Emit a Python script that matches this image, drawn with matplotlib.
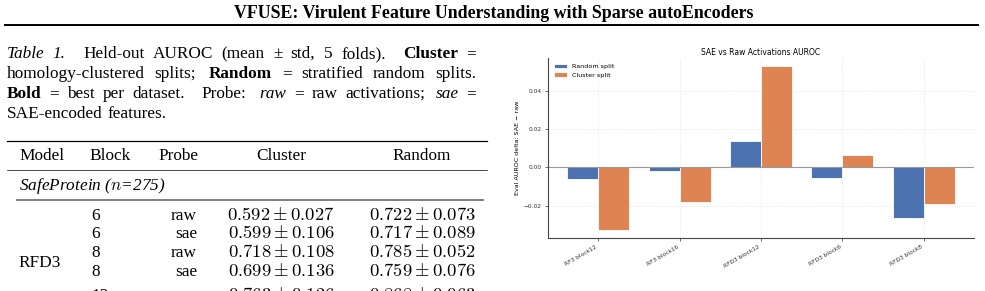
import numpy as np
import matplotlib.pyplot as plt
from matplotlib.lines import Line2D
from matplotlib.ticker import MultipleLocator

W, H = 985, 291

# chart data
categories = ['RF3 block12', 'RF3 block16', 'RFD3 block12', 'RFD3 block6', 'RFD3 block8']
random_delta = [-0.0062, -0.0018, 0.0137, -0.0053, -0.0265]
cluster_delta = [-0.0325, -0.0179, 0.0528, 0.0065, -0.0188]

# table data
blocks = ['6', '6', '8', '8', '12']
probes = ['raw', 'sae', 'raw', 'sae', 'raw']
cluster_mean = [0.592, 0.599, 0.718, 0.699, 0.763]
cluster_std = [0.027, 0.106, 0.108, 0.136, 0.126]
random_mean = [0.722, 0.717, 0.785, 0.759, 0.868]
random_std = [0.073, 0.089, 0.052, 0.076, 0.063]

SERIF = 'Liberation Serif'
FS = 12.4
EM = FS * 100 / 72

fig = plt.figure(figsize=(W / 100, H / 100), dpi=100)
renderer = fig.canvas.get_renderer()


def put(x, y, s, ha='left', size=FS, **kw):
    # x, y in pixels from the top-left corner, y is the baseline
    return fig.text(x / W, 1 - y / H, s, ha=ha, va='baseline', fontsize=size,
                    family=SERIF, **kw)


def rule(x0, x1, y, lw, color='black'):
    fig.add_artist(Line2D([x0 / W, x1 / W], [1 - y / H, 1 - y / H],
                          transform=fig.transFigure, lw=lw, color=color))


def space_factor(w):
    # rough TeX space factors: more stretch after punctuation
    if w[-1] in '.':
        return 3.0
    if w[-1] in ':':
        return 2.0
    if w[-1] in ';':
        return 1.5
    if w[-1] in ',':
        return 1.25
    return 1.0


def line(words, y, x0=7, x1=476, justify=True):
    arts = []
    for w, st in words:
        arts.append(put(0, y, w,
                        fontweight='bold' if st == 'b' else 'normal',
                        fontstyle='italic' if st == 'i' else 'normal'))
    ws = [t.get_window_extent(renderer).width for t in arts]
    sf = [space_factor(w) for w, _ in words[:-1]]
    nat = [EM * (0.25 + (0.1 if f >= 2 else 0)) for f in sf]
    extra = (x1 - x0 - sum(ws) - sum(nat)) if justify else 0
    gaps = [n + extra * f / sum(sf) for n, f in zip(nat, sf)] + [0]
    x = x0
    for t, w, g in zip(arts, ws, gaps):
        t.set_x(x / W)
        x += w + g


# page header
put(494, 18, 'VFUSE: Virulent Feature Understanding with Sparse autoEncoders',
    ha='center', fontweight='bold', size=12.9)
rule(5, 978, 25, 1.4)

# caption
line([('Table', 'i'), ('1.', 'i'), ('Held-out', 'r'), ('AUROC', 'r'), ('(mean', 'r'),
      ('\u00b1', 'r'), ('std,', 'r'), ('5', 'r'), ('folds).', 'r'), ('Cluster', 'b'),
      ('=', 'r')], 58)
line([('homology-clustered', 'r'), ('splits;', 'r'), ('Random', 'b'), ('=', 'r'),
      ('stratified', 'r'), ('random', 'r'), ('splits.', 'r')], 78)
line([('Bold', 'b'), ('=', 'r'), ('best', 'r'), ('per', 'r'), ('dataset.', 'r'),
      ('Probe:', 'r'), ('raw', 'i'), ('=', 'r'), ('raw', 'r'), ('activations;', 'r'),
      ('sae', 'i'), ('=', 'r')], 98)
line([('SAE-encoded', 'r'), ('features.', 'r')], 118, justify=False)

# table
rule(7, 487, 141, 0.9)
put(19, 160, 'Model')
put(89, 160, 'Block')
put(198, 160, 'Probe', ha='right')
put(281, 160, 'Cluster', ha='center')
put(422, 160, 'Random', ha='center')
rule(7, 487, 170, 0.5)
put(19, 190, r'SafeProtein ($n$=275)', fontstyle='italic', math_fontfamily='cm')
rule(17, 483, 200, 1.4, color='#7f7f7f')

row_y = [220, 238.5, 257, 275.5, 300]
put(18, 267, 'RFD3')
for i, y in enumerate(row_y):
    put(91, y, blocks[i])
    put(197, y, probes[i], ha='right')
    put(281, y, r'$%.3f \pm %.3f$' % (cluster_mean[i], cluster_std[i]), ha='center',
        math_fontfamily='cm', size=13.4)
    put(422, y, r'$%.3f \pm %.3f$' % (random_mean[i], random_std[i]), ha='center',
        math_fontfamily='cm', size=13.4)

# bar chart
ax = fig.add_axes([548 / W, 1 - 238 / H, 426 / W, 180 / H])
x = np.arange(len(categories))
bw = 0.38
ax.bar(x - bw / 2, random_delta, bw, color='#4C72B0', edgecolor='white',
       linewidth=0.6, label='Random split')
ax.bar(x + bw / 2, cluster_delta, bw, color='#DD8452', edgecolor='white',
       linewidth=0.6, label='Cluster split')
ax.axhline(0, color='#999999', lw=0.8)
ax.set_xticks(x)
ax.set_xticklabels(categories, rotation=30, ha='right')
ax.yaxis.set_major_locator(MultipleLocator(0.02))
ax.tick_params(labelsize=4.2, length=2.5, width=0.5, pad=2, colors='#333333')
ax.set_ylabel('Eval AUROC delta: SAE \u2212 raw', fontsize=4.6, labelpad=2.5)
ax.set_title('SAE vs Raw Activations AUROC', fontsize=5.5, pad=2)
ax.legend(loc='upper left', fontsize=4.6, frameon=False)
ax.grid(True, ls='--', lw=0.5, alpha=0.25)
ax.set_axisbelow(True)
for s in ['top', 'right']:
    ax.spines[s].set_visible(False)
for s in ['left', 'bottom']:
    ax.spines[s].set_color('#444444')
    ax.spines[s].set_linewidth(0.8)

fig.savefig('out.png', dpi=100)
